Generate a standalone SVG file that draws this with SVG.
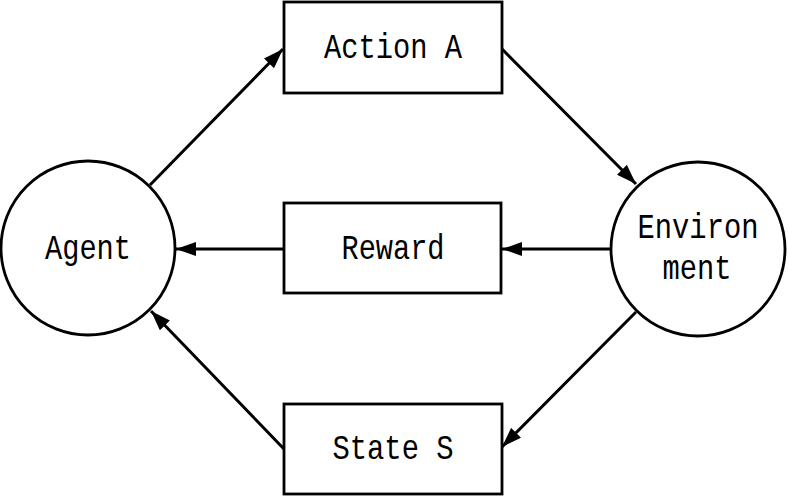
<svg xmlns="http://www.w3.org/2000/svg" width="789" height="496" viewBox="0 0 789 496">
<defs>
<style>
.shape{fill:#fff;stroke:#000;stroke-width:2.8}
.lbl{font-family:"Liberation Mono","DejaVu Sans Mono",monospace;font-size:35px;fill:#000;text-anchor:middle}
.conn{stroke:#000;stroke-width:3;fill:none;marker-end:url(#arr)}
</style>
<marker id="arr" viewBox="0 0 20 14" refX="20" refY="7" markerWidth="20" markerHeight="14" markerUnits="userSpaceOnUse" orient="auto">
<path d="M0,0 L20,7 L0,14 Z" fill="#000"/>
</marker>
</defs>
<rect width="789" height="496" fill="#fff"/>
<g id="connectors">
<line class="conn" x1="150" y1="185" x2="283" y2="49"/>
<line class="conn" x1="502" y1="49" x2="636" y2="184"/>
<line class="conn" x1="611" y1="249" x2="502" y2="249"/>
<line class="conn" x1="284" y1="249" x2="176" y2="249"/>
<line class="conn" x1="636" y1="312" x2="502" y2="447"/>
<line class="conn" x1="284" y1="449" x2="151" y2="311"/>
</g>
<g id="agent">
<circle class="shape" cx="88" cy="248" r="87"/>
<text class="lbl" x="88" y="259" textLength="86" lengthAdjust="spacingAndGlyphs">Agent</text>
</g>
<g id="environment">
<circle class="shape" cx="698" cy="249" r="87"/>
<text class="lbl" x="698" y="238" textLength="121" lengthAdjust="spacingAndGlyphs">Environ</text>
<text class="lbl" x="697" y="279" textLength="69" lengthAdjust="spacingAndGlyphs">ment</text>
</g>
<g id="action">
<rect class="shape" x="284" y="2" width="218" height="91"/>
<text class="lbl" x="393" y="58" textLength="138" lengthAdjust="spacingAndGlyphs">Action A</text>
</g>
<g id="reward">
<rect class="shape" x="284" y="203" width="217" height="90"/>
<text class="lbl" x="393" y="259" textLength="103" lengthAdjust="spacingAndGlyphs">Reward</text>
</g>
<g id="state">
<rect class="shape" x="284" y="404" width="218" height="90"/>
<text class="lbl" x="393" y="459" textLength="121" lengthAdjust="spacingAndGlyphs">State S</text>
</g>
</svg>
